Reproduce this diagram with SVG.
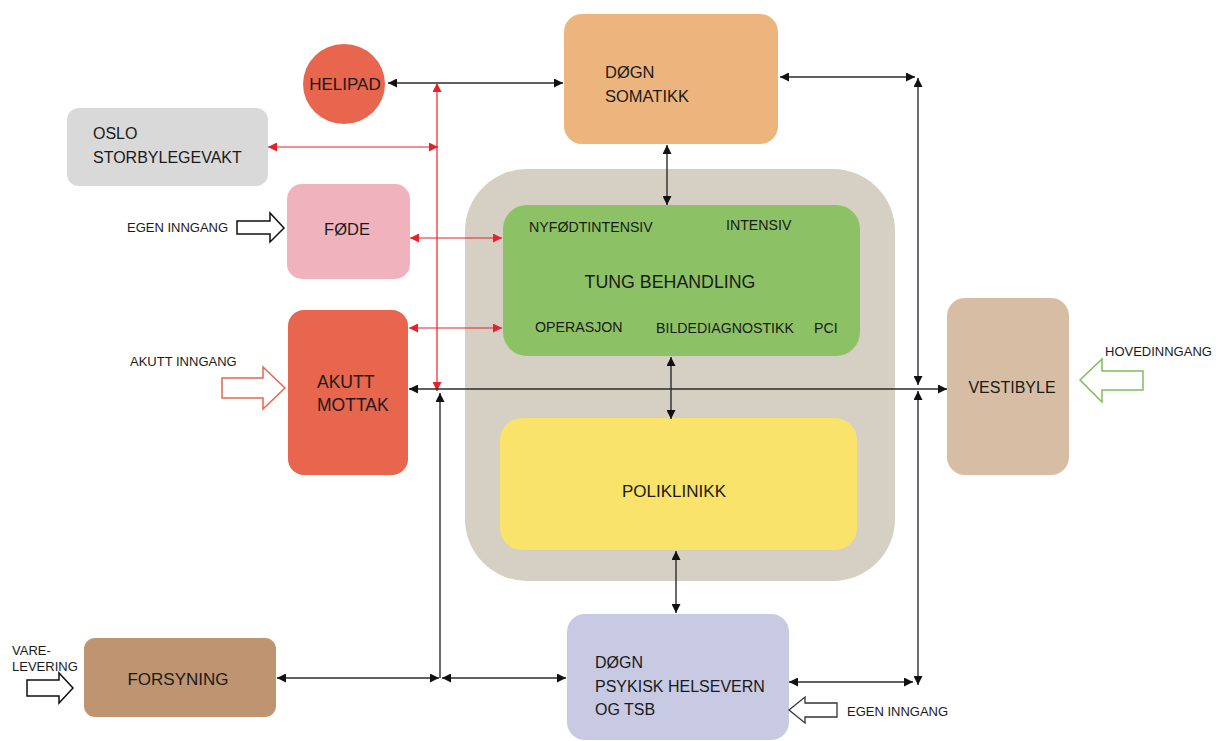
<svg xmlns="http://www.w3.org/2000/svg" width="1218" height="741" viewBox="0 0 1218 741">
<style>
text{font-family:"Liberation Sans",Arial,sans-serif;fill:#1a1a1a}
.big{font-size:16.5px}
.sm{font-size:13px}
.gl{font-size:14.2px}
.c{text-anchor:middle}
.blk{stroke:#2b2b2b;stroke-width:1.4;fill:none;marker-start:url(#ab);marker-end:url(#ab)}
.red{stroke:#e62129;stroke-width:1.2;fill:none;marker-start:url(#ar);marker-end:url(#ar)}
</style>
<defs>
<marker id="ab" viewBox="0 0 10 10" refX="10" refY="5" markerWidth="11" markerHeight="9" orient="auto-start-reverse" markerUnits="userSpaceOnUse"><path d="M0,0 L10,5 L0,10 z" fill="#111"/></marker>
<marker id="ar" viewBox="0 0 10 10" refX="10" refY="5" markerWidth="11" markerHeight="9" orient="auto-start-reverse" markerUnits="userSpaceOnUse"><path d="M0,0 L10,5 L0,10 z" fill="#e62129"/></marker>
</defs>
<rect width="1218" height="741" fill="#fff"/>

<g id="kjerne"><rect x="465" y="169" width="430" height="412" rx="62" fill="#d6d0c4"/></g>

<g id="helipad"><ellipse cx="344" cy="84" rx="41" ry="40" fill="#e8654e"/><text class="c" x="345" y="90" style="font-size:17px">HELIPAD</text></g>

<g id="dogn-somatikk"><rect x="564" y="14" width="214" height="130" rx="18" fill="#edb57e"/><text class="big" x="605" y="78">DØGN</text><text class="big" x="605" y="102">SOMATIKK</text></g>

<g id="oslo"><rect x="67" y="108" width="201" height="78" rx="12" fill="#d9d9d9"/><text x="93" y="139" style="font-size:16px">OSLO</text><text x="93" y="163" style="font-size:16px">STORBYLEGEVAKT</text></g>

<g id="fode"><rect x="287" y="184" width="123" height="95" rx="15" fill="#f0b3be"/><text class="big c" x="347" y="235">FØDE</text></g>

<g id="akutt"><rect x="288" y="310" width="120" height="165" rx="16" fill="#e8654e"/><text x="317" y="388" style="font-size:17.5px">AKUTT</text><text x="317" y="411" style="font-size:17.5px">MOTTAK</text></g>

<g id="tung-behandling"><rect x="503" y="205" width="357" height="151" rx="24" fill="#8cc265"/>
<text class="gl" x="529" y="232">NYFØDTINTENSIV</text>
<text class="gl" x="726" y="230">INTENSIV</text>
<text class="c" x="670" y="288" style="font-size:17.8px">TUNG BEHANDLING</text>
<text class="gl" x="535" y="332">OPERASJON</text>
<text class="gl" x="656" y="333">BILDEDIAGNOSTIKK</text>
<text class="gl" x="814" y="333">PCI</text></g>

<g id="poliklinikk"><rect x="500" y="418" width="357" height="132" rx="22" fill="#fae36a"/><text class="c" x="674" y="497" style="font-size:17px">POLIKLINIKK</text></g>

<g id="vestibyle"><rect x="947" y="298" width="122" height="177" rx="18" fill="#d6bda3"/><text class="c" x="1012" y="393" style="font-size:16px">VESTIBYLE</text></g>

<g id="forsyning"><rect x="84" y="638" width="192" height="79" rx="11" fill="#bf9471"/><text class="c" x="178" y="685" style="font-size:17px">FORSYNING</text></g>

<g id="dogn-psykisk"><rect x="567" y="614" width="222" height="126" rx="18" fill="#c8c9e3"/><text x="595" y="668" style="font-size:16px">DØGN</text><text x="595" y="692" style="font-size:16px">PSYKISK HELSEVERN</text><text x="595" y="715" style="font-size:16px">OG TSB</text></g>

<g id="inngang-fode"><text class="sm" x="127" y="232">EGEN INNGANG</text><path d="M237,221 H270 V213 L284,228 L270,242 V234 H237 Z" fill="#fff" stroke="#111" stroke-width="1.5"/></g>

<g id="inngang-akutt"><text class="sm" x="130" y="366">AKUTT INNGANG</text><path d="M222,378 H263 V367 L285,388 L263,409 V398 H222 Z" fill="#fff" stroke="#e8654e" stroke-width="1.5"/></g>

<g id="hovedinngang"><text class="sm" x="1105" y="356">HOVEDINNGANG</text><path d="M1143,371 H1102 V359 L1080,380 L1102,402 V390 H1143 Z" fill="#fff" stroke="#7dbe5b" stroke-width="1.5"/></g>

<g id="varelevering"><text class="sm" x="12" y="655">VARE-</text><text class="sm" x="12" y="671">LEVERING</text><path d="M27,680 H59 V673 L73,688 L59,703 V696 H27 Z" fill="#fff" stroke="#111" stroke-width="1.5"/></g>

<g id="inngang-psykisk"><text class="sm" x="847" y="716">EGEN INNGANG</text><path d="M837,703 H805 V697 L789,710 L805,723 V717 H837 Z" fill="#fff" stroke="#333" stroke-width="1.3"/></g>

<g id="connectors">
<path class="blk" d="M388,83 H563"/>
<path class="red" d="M437,83 V391"/>
<path class="red" d="M268,147 H438"/>
<path class="red" d="M410,238 H502"/>
<path class="red" d="M409,328 H502"/>
<path class="blk" d="M409,389 H947"/>
<path class="blk" d="M440,393 V678" style="marker-end:none"/>
<path class="blk" d="M277,678 H439"/>
<path class="blk" d="M442,678 H566"/>
<path class="blk" d="M667,145 V205"/>
<path class="blk" d="M671,357 V419"/>
<path class="blk" d="M676,551 V613"/>
<path class="blk" d="M780,77 H915"/>
<path class="blk" d="M918,78 V385"/>
<path class="blk" d="M918,391 V685"/>
<path class="blk" d="M789,682 H913"/>
</g>
</svg>
